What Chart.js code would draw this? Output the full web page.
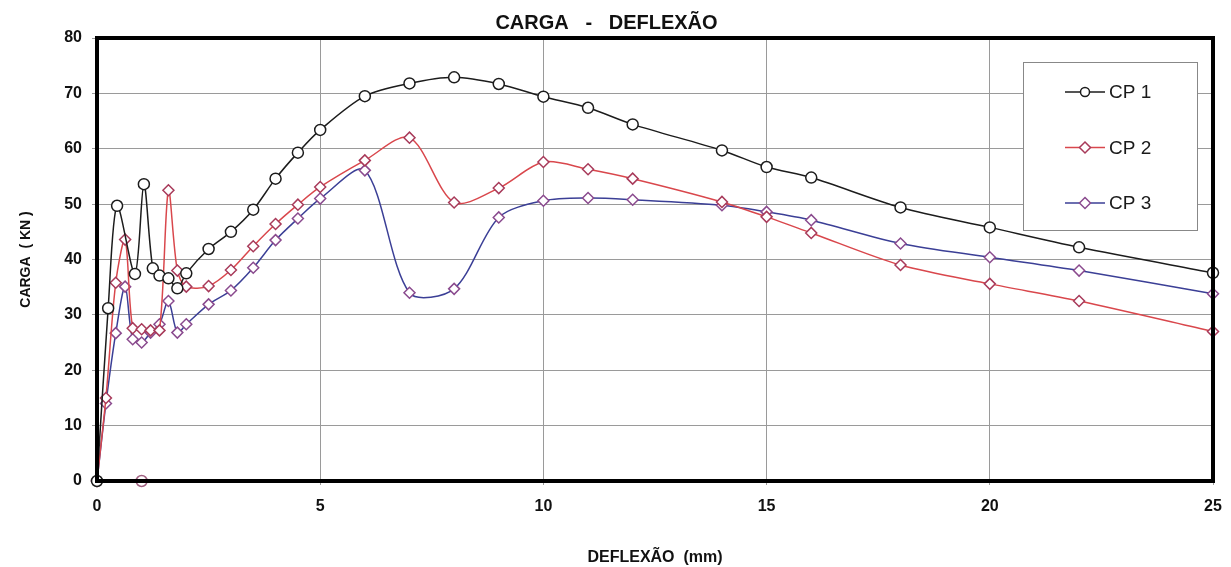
<!DOCTYPE html>
<html>
<head>
<meta charset="utf-8">
<script src="https://cdn.jsdelivr.net/npm/chart.js@4.4.1/dist/chart.umd.min.js"></script>
<style>
  html, body { margin: 0; padding: 0; background: #fff; }
  #wrap { width: 1231px; height: 567px; }
</style>
</head>
<body>
<div id="wrap"><canvas id="cargaChart"></canvas></div>
<script>
// deflexao (mm) / carga (kN)
const cp1X = [0, 0.25, 0.45, 0.85, 1.05, 1.25, 1.4, 1.6, 1.8, 2, 2.5, 3, 3.5, 4, 4.5, 5, 6, 7, 8, 9, 10, 11, 12, 14, 15, 16, 18, 20, 22, 25];
const cp1Y = [0, 31.2, 49.7, 37.4, 53.6, 38.4, 37.1, 36.6, 34.8, 37.5, 41.9, 45, 49, 54.6, 59.3, 63.4, 69.5, 71.8, 72.9, 71.7, 69.4, 67.4, 64.4, 59.7, 56.7, 54.8, 49.4, 45.8, 42.2, 37.6];

const cp2X = [0, 0.2, 0.42, 0.63, 0.8, 1.0, 1.2, 1.4, 1.6, 1.8, 2, 2.5, 3, 3.5, 4, 4.5, 5, 6, 7, 8, 9, 10, 11, 12, 14, 15, 16, 18, 20, 22, 25];
const cp2Y = [0, 15, 35.8, 43.6, 27.6, 27.4, 27.2, 27.2, 52.5, 38, 35.1, 35.2, 38.1, 42.4, 46.4, 49.9, 53.1, 57.9, 62, 50.3, 52.9, 57.6, 56.3, 54.6, 50.4, 47.7, 44.8, 39, 35.6, 32.5, 27];

const cp3X = [0, 0.2, 0.42, 0.63, 0.8, 1.0, 1.2, 1.4, 1.6, 1.8, 2, 2.5, 3, 3.5, 4, 4.5, 5, 6, 7, 8, 9, 10, 11, 12, 14, 15, 16, 18, 20, 22, 25];
const cp3Y = [0, 14, 26.7, 35.1, 25.6, 25, 26.8, 28.3, 32.5, 26.8, 28.3, 31.9, 34.4, 38.5, 43.5, 47.4, 51, 56.1, 34, 34.7, 47.6, 50.6, 51.1, 50.8, 49.8, 48.6, 47.1, 42.9, 40.4, 38, 33.8];

// stray marker sitting on the x axis
const strayX = [1];
const strayY = [0];

const xTicks = [0, 5, 10, 15, 20, 25];
const yTicks = [0, 10, 20, 30, 40, 50, 60, 70, 80];

const seriesNames = ["CP 1", "CP 2", "CP 3"];

const FONT = "'Liberation Sans Narrow', 'Liberation Sans', Arial, sans-serif";

function toPoints(xs, ys) {
    return xs.map((x, i) => ({ x: x, y: ys[i] }));
}

const frameAndLegend = {
    id: "frameAndLegend",
    afterDraw(chart) {
        const ctx = chart.ctx;
        const a = chart.chartArea;
        ctx.save();
        // thick plot frame
        ctx.strokeStyle = "#000";
        ctx.lineWidth = 4;
        ctx.strokeRect(a.left, a.top, a.right - a.left, a.bottom - a.top);

        // legend box inside the plot
        const bx = a.right - 190, by = a.top + 24, bw = 174, bh = 168;
        ctx.fillStyle = "#fff";
        ctx.fillRect(bx, by, bw, bh);
        ctx.strokeStyle = "#888";
        ctx.lineWidth = 1;
        ctx.strokeRect(bx + 0.5, by + 0.5, bw, bh);

        const shown = chart.data.datasets.filter(d => !d.hideInLegend);
        shown.forEach((ds, i) => {
            const y = by + 30 + i * 55.5;
            ctx.strokeStyle = ds.borderColor;
            ctx.lineWidth = 1.5;
            ctx.beginPath();
            ctx.moveTo(bx + 42, y);
            ctx.lineTo(bx + 82, y);
            ctx.stroke();
            ctx.fillStyle = "#fff";
            ctx.strokeStyle = ds.pointBorderColor;
            ctx.lineWidth = 1.5;
            ctx.beginPath();
            if (ds.pointStyle === "circle") {
                ctx.arc(bx + 62, y, 4.5, 0, Math.PI * 2);
            } else {
                ctx.moveTo(bx + 62, y - 5.5);
                ctx.lineTo(bx + 67.5, y);
                ctx.lineTo(bx + 62, y + 5.5);
                ctx.lineTo(bx + 56.5, y);
                ctx.closePath();
            }
            ctx.fill();
            ctx.stroke();
            ctx.fillStyle = "#1a1a1a";
            ctx.font = "19px 'Liberation Sans', Arial, sans-serif";
            ctx.textBaseline = "middle";
            ctx.textAlign = "left";
            ctx.fillText(ds.label, bx + 86, y + 1);
        });
        ctx.restore();
    }
};

const cargaChart = new Chart(
    document.getElementById("cargaChart"),
    {
        type: "line",
        data: {
            datasets: [{
                label: seriesNames[0],
                data: toPoints(cp1X, cp1Y),
                borderColor: "#1c1c1c",
                borderWidth: 1.5,
                pointStyle: "circle",
                pointRadius: 5.5,
                pointBorderWidth: 1.5,
                pointBackgroundColor: "#fff",
                pointBorderColor: "#1c1c1c",
                tension: 0.3
            }, {
                label: seriesNames[1],
                data: toPoints(cp2X, cp2Y),
                borderColor: "#d9474c",
                borderWidth: 1.5,
                pointStyle: "rectRot",
                pointRadius: 5.5,
                pointBorderWidth: 1.5,
                pointBackgroundColor: "#fff",
                pointBorderColor: "#a83a5a",
                tension: 0.3
            }, {
                label: seriesNames[2],
                data: toPoints(cp3X, cp3Y),
                borderColor: "#3b3f96",
                borderWidth: 1.5,
                pointStyle: "rectRot",
                pointRadius: 5.5,
                pointBorderWidth: 1.5,
                pointBackgroundColor: "#fff",
                pointBorderColor: "#8a4a8e",
                tension: 0.3
            }, {
                label: "",
                hideInLegend: true,
                data: toPoints(strayX, strayY),
                showLine: false,
                pointStyle: "circle",
                pointRadius: 5.5,
                pointBorderWidth: 1.5,
                pointBackgroundColor: "#fff",
                pointBorderColor: "#a06080"
            }]
        },
        options: {
            responsive: true,
            maintainAspectRatio: false,
            animation: false,
            clip: false,
            layout: {
                padding: { left: 0, right: 18, top: 0, bottom: 0 }
            },
            plugins: {
                legend: { display: false },
                tooltip: { enabled: false },
                title: {
                    display: true,
                    text: "CARGA   -   DEFLEXÃO",
                    color: "#111",
                    font: { family: FONT, size: 20, weight: "bold" },
                    padding: { top: 11, bottom: 3 }
                }
            },
            scales: {
                x: {
                    type: "linear",
                    min: 0,
                    max: 25,
                    afterBuildTicks: (s) => { s.ticks = xTicks.map(v => ({ value: v })); },
                    afterFit: (s) => { s.height = 86; s.paddingRight = 0; s.paddingLeft = 0; },
                    grid: { color: "#9a9a9a", lineWidth: 1, tickLength: 4, drawTicks: true },
                    border: { display: false },
                    ticks: {
                        color: "#111",
                        padding: 12,
                        font: { family: FONT, size: 16, weight: "bold" }
                    },
                    title: {
                        display: true,
                        text: "DEFLEXÃO  (mm)",
                        color: "#111",
                        font: { family: FONT, size: 16, weight: "bold" },
                        padding: { top: 26, bottom: 0 }
                    }
                },
                y: {
                    min: 0,
                    max: 80,
                    afterBuildTicks: (s) => { s.ticks = yTicks.map(v => ({ value: v })); },
                    afterFit: (s) => { s.width = 97; s.paddingTop = 0; s.paddingBottom = 0; },
                    grid: { color: "#9a9a9a", lineWidth: 1, tickLength: 5 },
                    border: { display: false },
                    ticks: {
                        color: "#111",
                        padding: 10,
                        font: { family: FONT, size: 16, weight: "bold" }
                    },
                    title: {
                        display: true,
                        text: "CARGA  ( KN )",
                        color: "#111",
                        font: { family: FONT, size: 14, weight: "bold" },
                        padding: { top: 18, bottom: 0 }
                    }
                }
            }
        },
        plugins: [frameAndLegend]
    }
);
</script>
</body>
</html>
